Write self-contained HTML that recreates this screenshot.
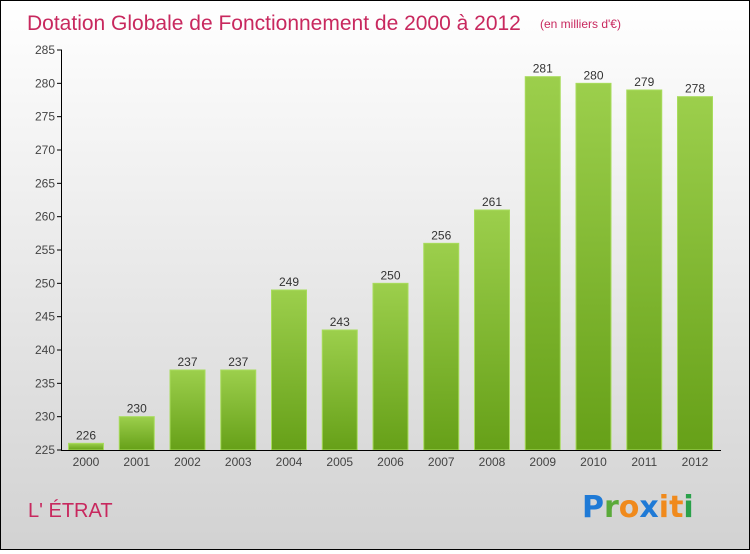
<!DOCTYPE html>
<html><head><meta charset="utf-8"><style>
html,body{margin:0;padding:0}
body{width:750px;height:550px;overflow:hidden;font-family:"Liberation Sans",sans-serif}
#wrap{position:absolute;left:0;top:0;width:748px;height:548px;border:1px solid #000;background:linear-gradient(#ffffff,#d2d2d2)}
</style></head><body>
<div id="wrap">
<svg width="748" height="548" viewBox="1 1 748 548" id="chart">
<defs><linearGradient id="g" x1="0" y1="0" x2="0" y2="1"><stop offset="0" stop-color="#9ccf4c"/><stop offset="1" stop-color="#66a018"/></linearGradient></defs>
<text x="27" y="30" font-size="21" fill="#c8285e">Dotation Globale de Fonctionnement de 2000 à 2012</text>
<text x="540" y="28" font-size="12" fill="#c8285e">(en milliers d'€)</text>
<text x="28" y="517" font-size="20" fill="#c8285e">L' ÉTRAT</text>
<g font-size="30" font-weight="bold" font-family="'DejaVu Sans',sans-serif">
<text x="582" y="517"><tspan fill="#1f7ad6">P</tspan><tspan fill="#5aaa3a">r</tspan><tspan fill="#f08a1c">o</tspan><tspan fill="#1f7ad6">x</tspan><tspan fill="#f08a1c">i</tspan><tspan fill="#f08a1c">t</tspan><tspan fill="#2aa14a">i</tspan></text>
</g>
<g id="plot"></g>
</svg></div>
<script>
const categories=["2000","2001","2002","2003","2004","2005","2006","2007","2008","2009","2010","2011","2012"];
const values=[226,230,237,237,249,243,250,256,261,281,280,279,278];
const yTicks=[225,230,235,240,245,250,255,260,265,270,275,280,285];
const NS="http://www.w3.org/2000/svg";
const g=document.getElementById('plot');
const y0=450,y1=50,vmin=225,vmax=285;
const y=v=>y0-(v-vmin)/(vmax-vmin)*(y0-y1);
const x=i=>86+i*50.75;
function mk(t,a){const e=document.createElementNS(NS,t);for(const k in a)e.setAttribute(k,a[k]);g.appendChild(e);return e;}
yTicks.forEach(t=>{
 const l=mk('line',{x1:57,x2:62,y1:y(t),y2:y(t),stroke:'#000'});
 
 
 const tx=mk('text',{x:55,y:y(t)+4,'text-anchor':'end','font-size':12,fill:'#444'});
 tx.textContent=t;
 
 
});
categories.forEach((c,i)=>{
 const v=values[i];
 const r=mk('rect',{x:x(i)-17.5,y:y(v),width:35,height:y0-y(v),fill:'url(#g)',stroke:'#a8dc5c','stroke-width':1});
 
 
 const vl=mk('text',{x:x(i),y:y(v)-4,'text-anchor':'middle','font-size':12,fill:'#333'});
 vl.textContent=v;
 
 
 const xl=mk('text',{x:x(i),y:466,'text-anchor':'middle','font-size':12,fill:'#444'});
 xl.textContent=c;
 
 
});
const ya=mk('line',{x1:61.5,x2:61.5,y1:50,y2:450,stroke:'#000'});


const xa=mk('line',{x1:61,x2:721,y1:450.5,y2:450.5,stroke:'#000'});


</script>
</body></html>
